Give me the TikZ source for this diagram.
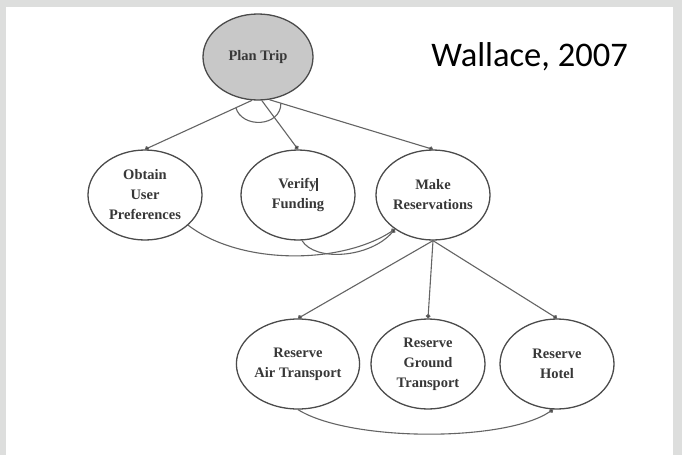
\documentclass[tikz,border=0pt]{standalone}
\usepackage{fontspec}
\setmainfont{Liberation Serif}
\newfontfamily\citefont{Carlito}
\usetikzlibrary{shapes.geometric,arrows.meta,calc}
\definecolor{framegray}{RGB}{221,222,221}
\definecolor{rootfill}{RGB}{200,200,200}
\definecolor{edgegray}{RGB}{100,100,100}
\definecolor{rimgray}{RGB}{75,75,75}
\definecolor{labelgray}{RGB}{55,55,55}
\begin{document}
\begin{tikzpicture}[x=1pt,y=-1pt,
  task/.style={ellipse,draw=rimgray,line width=1.3pt,fill=white,
    minimum width=114pt,minimum height=90pt,inner sep=0pt,
    align=center,text=labelgray,font=\bfseries\fontsize{14.5}{20}\selectfont},
  link/.style={draw=edgegray,line width=1.1pt,
    -{Circle[length=4.5pt,fill=black!80]}},
  plain/.style={draw=edgegray,line width=1.1pt}]
  \useasboundingbox (0,0) rectangle (682,455);
  % frame
  \fill[framegray] (0,0) rectangle (682,455);
  \fill[white] (6,7) rectangle (673,455);

  % task nodes
  \node[task,fill=rootfill,minimum width=110pt,minimum height=86pt] (plan) at (258,57) {Plan Trip};
  \node[task] (obtain) at (145,195) {Obtain\\User\\Preferences};
  \node[task] (verify) at (298,195) {Verify\rule[-2pt]{1.3pt}{13pt}\\Funding};
  \node[task] (make) at (433,195) {Make\\Reservations};
  \node[task] (air) at (298,364) {Reserve\\Air Transport};
  \node[task] (ground) at (428,364) {Reserve\\Ground\\Transport};
  \node[task] (hotel) at (557,364) {Reserve\\Hotel};

  \node[font=\citefont\fontsize{34.5}{40}\selectfont,anchor=base] (cite) at (529.5,66) {Wallace, 2007};

  % decomposition of the root task, joined by an AND arc
  \draw[link] (plan.262) -- (obtain.north);
  \draw[link] (plan.275) -- (verify.north);
  \draw[link] (plan.285) -- (make.north);
  \draw[plain] ($(plan.262)!0.15!(obtain.north)$)
    .. controls +(6,21) and +(0,24) .. ($(plan.285)!0.07!(make.north)$);

  % ordering between sibling tasks
  \draw[link] (obtain.325) .. controls (240,265) and (340,265) .. (make.222);
  \draw[link] (verify.275) .. controls (315,262) and (370,258) .. (make.222);

  % decomposition of the reservations
  \draw[link] (make.south) -- (air.north);
  \draw[link] (make.south) -- (ground.north);
  \draw[link] (make.south) -- (hotel.north);
  \draw[link] (air.270) .. controls (350,442) and (505,442) .. (hotel.265);
\end{tikzpicture}
\end{document}
